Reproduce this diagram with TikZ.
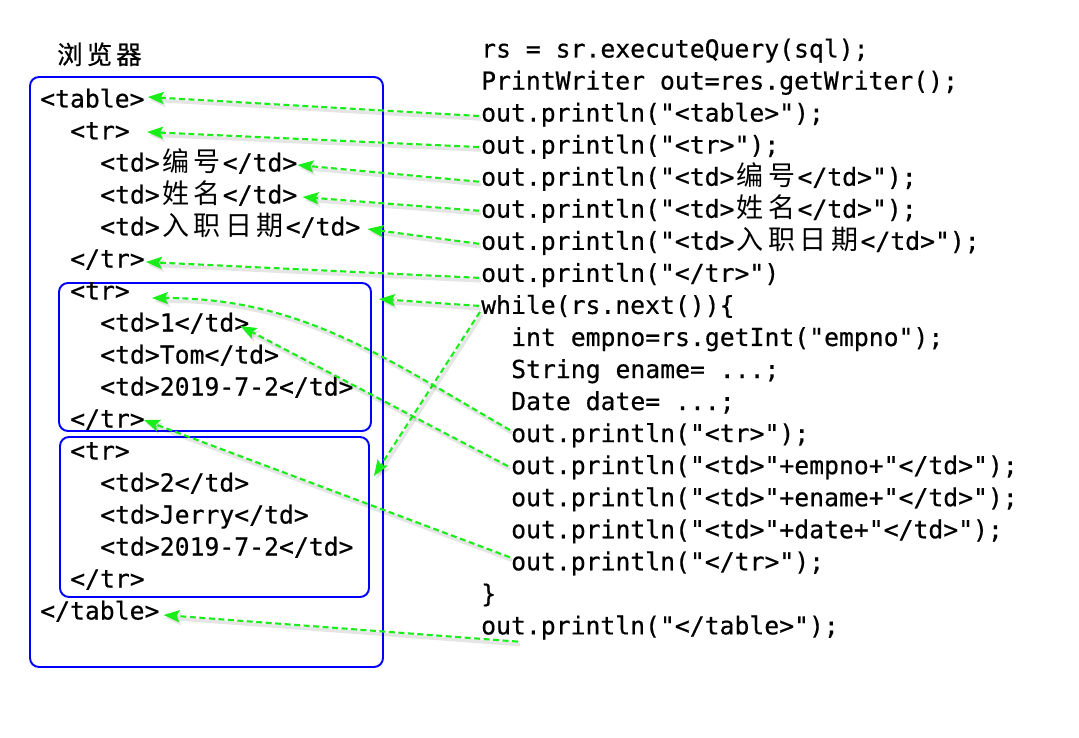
\documentclass[tikz,border=0pt]{standalone}
\usepackage{fontspec}
\setmonofont{DejaVu Sans Mono}[FakeBold=0.5]
\newfontfamily\cjk{Noto Sans CJK SC}
\newfontfamily\cjktitle{Noto Sans CJK SC}[FakeBold=0.6]
\usetikzlibrary{arrows.meta,calc}
\definecolor{arrowgreen}{RGB}{25,238,25}
\definecolor{boxblue}{RGB}{0,0,255}
\newcommand\CJ[1]{\makebox[31.5pt]{\cjk\fontsize{27}{27}\selectfont #1}}
\newcommand\TT[1]{\makebox[29.5pt]{\cjktitle\fontsize{25.5}{25.5}\selectfont #1}}
\tikzset{
  code/.style={anchor=base west, inner sep=0pt, text height=21.5pt, text depth=3.5pt,
    font=\ttfamily\fontsize{24.75}{30}\selectfont},
  bbox/.style={draw=boxblue, line width=1.9pt, rounded corners=9pt, inner sep=0pt},
  arr/.style={draw=arrowgreen, line width=2.1pt, dash pattern=on 6pt off 3.5pt,
    -{Stealth[length=16pt,width=12pt,inset=3pt]},
    preaction={draw=black, solid, opacity=0.1, line width=3.5pt,
      transform canvas={shift={(2pt,-3pt)}}}}
}
\begin{document}
\begin{tikzpicture}[x=1pt,y=-1pt]
\useasboundingbox (0,0) rectangle (1079,738);
% title
\node[anchor=base west, inner sep=0pt] (title) at (55,64) {\TT{浏}\TT{览}\TT{器}};
% boxes
\node[bbox, minimum width=353pt, minimum height=590pt] (browser) at (206.5,372) {};
\node[bbox, minimum width=312pt, minimum height=148pt] (box1) at (215,357) {};
\node[bbox, minimum width=309pt, minimum height=160pt] (box2) at (214.5,517) {};
% left html
\node[code] (L1) at (40,107.5) {<table>};
\node[code] (L2) at (70,139.5) {<tr>};
\node[code] (L3) at (100,171.5) {<td>\CJ{编}\CJ{号}</td>};
\node[code] (L4) at (100,203.5) {<td>\CJ{姓}\CJ{名}</td>};
\node[code] (L5) at (100,235.5) {<td>\CJ{入}\CJ{职}\CJ{日}\CJ{期}</td>};
\node[code] (L6) at (70,267.5) {</tr>};
\node[code] (L7) at (70,299.5) {<tr>};
\node[code] (L8) at (100,331.5) {<td>1</td>};
\node[code] (L9) at (100,363.5) {<td>Tom</td>};
\node[code] (L10) at (100,395.5) {<td>2019-7-2</td>};
\node[code] (L11) at (70,427.5) {</tr>};
\node[code] (L12) at (70,459.5) {<tr>};
\node[code] (L13) at (100,491.5) {<td>2</td>};
\node[code] (L14) at (100,523.5) {<td>Jerry</td>};
\node[code] (L15) at (100,555.5) {<td>2019-7-2</td>};
\node[code] (L16) at (70,587.5) {</tr>};
\node[code] (L17) at (40,619.5) {</table>};
% right java
\node[code] (R1) at (481,57.5) {rs = sr.executeQuery(sql);};
\node[code] (R2) at (481,89.55) {PrintWriter out=res.getWriter();};
\node[code] (R3) at (481,121.6) {out.println("<table>");};
\node[code] (R4) at (481,153.65) {out.println("<tr>");};
\node[code] (R5) at (481,185.7) {out.println("<td>\CJ{编}\CJ{号}</td>");};
\node[code] (R6) at (481,217.75) {out.println("<td>\CJ{姓}\CJ{名}</td>");};
\node[code] (R7) at (481,249.8) {out.println("<td>\CJ{入}\CJ{职}\CJ{日}\CJ{期}</td>");};
\node[code] (R8) at (481,281.85) {out.println("</tr>")};
\node[code] (R9) at (481,313.9) {while(rs.next())\{};
\node[code] (R10) at (511,345.95) {int empno=rs.getInt("empno");};
\node[code] (R11) at (511,378) {String ename= ...;};
\node[code] (R12) at (511,410.05) {Date date= ...;};
\node[code] (R13) at (511,442.1) {out.println("<tr>");};
\node[code] (R14) at (511,474.15) {out.println("<td>"+empno+"</td>");};
\node[code] (R15) at (511,506.2) {out.println("<td>"+ename+"</td>");};
\node[code] (R16) at (511,538.25) {out.println("<td>"+date+"</td>");};
\node[code] (R17) at (511,570.3) {out.println("</tr>");};
\node[code] (R18) at (481,602.35) {\}};
\node[code] (R19) at (481,634.4) {out.println("</table>");};
% arrows
\draw[arr] ($(R3.west)+(-2,3.4)$) -- ($(L1.east)+(3,-1.5)$);
\draw[arr] ($(R4.west)+(-2,2.4)$) -- ($(L2.east)+(17,1.5)$);
\draw[arr] ($(R5.west)+(-2,5)$) -- ($(L3.east)+(0,2.5)$);
\draw[arr] ($(R6.west)+(-2,2)$) -- ($(L4.east)+(5,2.5)$);
\draw[arr] ($(R7.west)+(-2,3)$) -- ($(L5.east)+(7,2.5)$);
\draw[arr] ($(R8.west)+(-2,5)$) -- ($(L6.east)+(1,3.5)$);
\draw[arr] ($(R9.west)+(-2,1)$) -- ($(box1.north east)+(7,17)$);
\draw[arr] ($(R9.west)+(-1,7)$) -- ($(box2.north east)+(4,40)$);
\draw[arr] ($(R13.west)+(-1,-3)$) to[out=150,in=0] ($(L7.east)+(22,7.5)$);
\draw[arr] ($(R14.west)+(-3,1)$) -- ($(L8.east)+(-9,3.5)$);
\draw[arr] ($(R17.west)+(-1,-4)$) -- ($(L11.east)+(-1,1.5)$);
\draw[arr] ($(R19.south west)+(37,3.5)$) -- ($(L17.east)+(4,4.5)$);
\end{tikzpicture}
\end{document}
